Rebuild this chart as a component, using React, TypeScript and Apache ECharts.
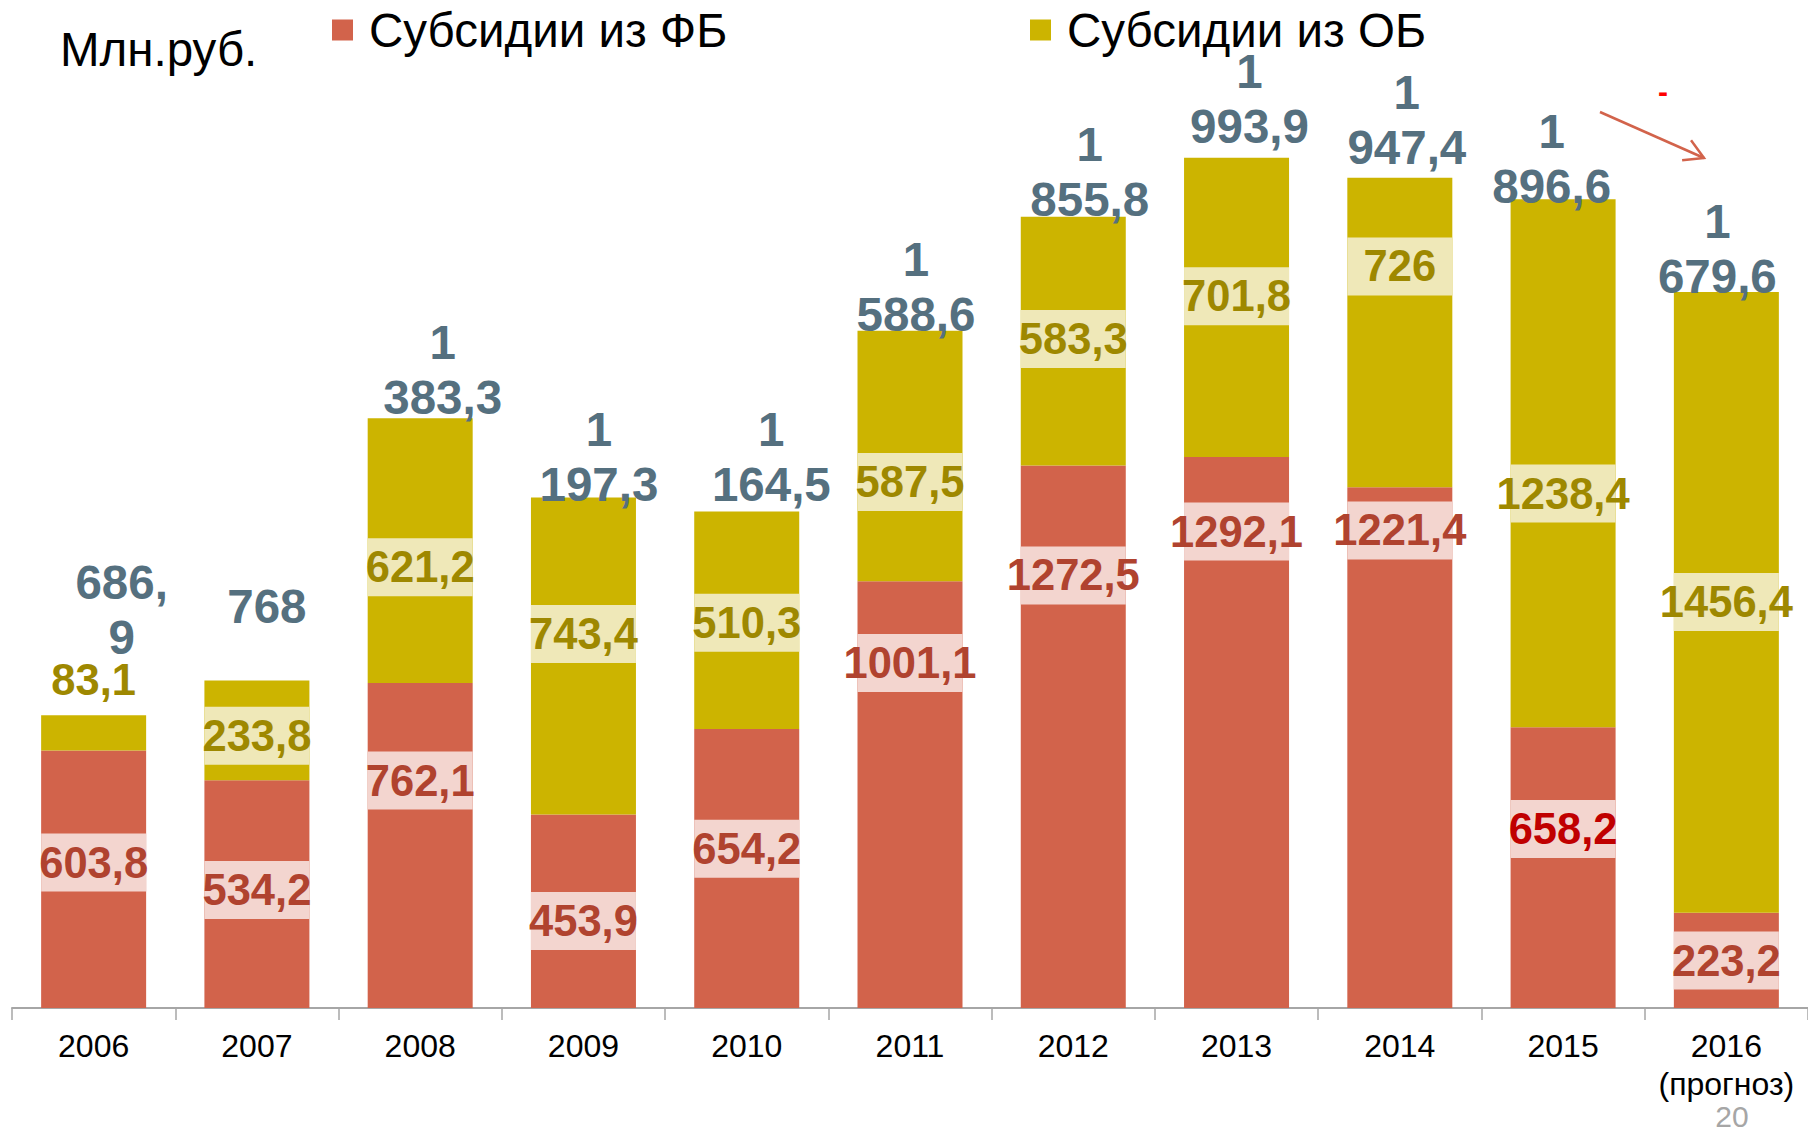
import React, { useEffect, useRef } from "react";
import * as echarts from "echarts";

// ---------- data ----------
const years = ["2006", "2007", "2008", "2009", "2010", "2011", "2012", "2013", "2014", "2015", "2016\n(прогноз)"];
const fbValues = [603.8, 534.2, 762.1, 453.9, 654.2, 1001.1, 1272.5, 1292.1, 1221.4, 658.2, 223.2];
const obValues = [83.1, 233.8, 621.2, 743.4, 510.3, 587.5, 583.3, 701.8, 726, 1238.4, 1456.4];
const seriesNames = ["Субсидии из ФБ", "Субсидии из ОБ"];
const unitLabel = "Млн.руб.";
const pageNumber = "20";
const trendMark = "-";

// ---------- layout ----------
const W = 1808;
const H = 1128;
const GRID_LEFT = 12;
const GRID_RIGHT = -6;
const GRID_TOP = 70;
const GRID_BOTTOM = 120;
const Y_MAX = 2200;
const BAR_W = 105;
const FONT = "'Liberation Sans', Arial, sans-serif";
// label centres (page px)
const fbLabelY = [862.5, 890, 780.6, 921, 848.7, 663, 575.4, 531.6, 530.4, 829, 960.5];
const obLabelY = [680, 735.7, 567.3, 634, 622.7, 482, 339, 296.3, 266.4, 493.5, 602];
const totalLabelY = [637, 606.5, 397.8, 484.3, 484.3, 314.8, 199.5, 126.8, 147.6, 186.8, 276.7];
const totalLabelDX = [28, 10, 22.5, 15.5, 24.6, 6, 16.5, 13, 7, -11.4, -9];
const LH_FIRST = 42;
const LH_LAST = 68;

const RED = "#d2634b";
const YELLOW = "#ccb400";

const yPix = (v: number) => H - GRID_BOTTOM - (v * (H - GRID_TOP - GRID_BOTTOM)) / Y_MAX;
const fmt = (v: number) => v.toFixed(1).replace(".", ",").replace(/,0$/, "");
const wrapTotal = (v: number) => {
  const s = fmt(v);
  const comma = s.indexOf(",");
  let lines: string[];
  if (v >= 1000) {
    const intPart = comma >= 0 ? s.slice(0, comma) : s;
    const head = intPart.slice(0, intPart.length - 3);
    lines = [head, s.slice(head.length)];
  } else if (comma >= 0) {
    lines = [s.slice(0, comma + 1), s.slice(comma + 1)];
  } else {
    lines = [s];
  }
  return lines.map((l, i) => (i === lines.length - 1 ? `{b|${l}}` : `{a|${l}}`)).join("\n");
};

export default function App() {
  const ref = useRef<HTMLDivElement>(null);
  useEffect(() => {
    if (!ref.current) return;
    const chart = echarts.init(ref.current, undefined, { renderer: "svg" });
    const totals = fbValues.map((v, i) => +(v + obValues[i]).toFixed(1));

    const innerLabel = {
      show: true,
      position: "inside",
      fontFamily: FONT,
      fontSize: 43.5,
      fontWeight: "bold",
      width: BAR_W,
      height: 58,
      lineHeight: 58,
      align: "center",
      verticalAlign: "middle",
      overflow: "none",
      formatter: (p: any) => fmt(p.value),
    };

    // arrow geometry
    const ax1 = 1600, ay1 = 112, ax2 = 1704, ay2 = 158;
    const len = Math.hypot(ax2 - ax1, ay2 - ay1);
    const bx = -(ax2 - ax1) / len, by = -(ay2 - ay1) / len;
    const c = Math.cos(Math.PI / 6), s = Math.sin(Math.PI / 6), hl = 22;
    const h1 = [ax2 + hl * (bx * c - by * s), ay2 + hl * (bx * s + by * c)];
    const h2 = [ax2 + hl * (bx * c + by * s), ay2 + hl * (-bx * s + by * c)];

    const legendText = { fontSize: 47.5, lineHeight: 44, color: "#000", fontFamily: FONT, padding: [0, 0, 0, 11] };
    const totalText = { fontFamily: FONT, fontSize: 47.5, fontWeight: "bold", color: "#55707f", align: "center" };

    chart.setOption({
      animation: false,
      backgroundColor: "#ffffff",
      grid: { left: GRID_LEFT, right: GRID_RIGHT, top: GRID_TOP, bottom: GRID_BOTTOM, containLabel: false },
      legend: [
        { data: [seriesNames[0]], left: 332, top: 6, padding: 0, icon: "rect", itemWidth: 21, itemHeight: 21, textStyle: legendText },
        { data: [seriesNames[1]], left: 1030, top: 6, padding: 0, icon: "rect", itemWidth: 21, itemHeight: 21, textStyle: legendText },
      ],
      xAxis: {
        type: "category",
        data: years,
        axisLine: { lineStyle: { color: "#a6a6a6", width: 2 } },
        axisTick: { show: true, length: 12, lineStyle: { color: "#a6a6a6", width: 1.5 } },
        axisLabel: { fontSize: 32, lineHeight: 38, color: "#000", fontFamily: FONT, margin: 19, interval: 0 },
      },
      yAxis: { type: "value", min: 0, max: Y_MAX, show: false, splitLine: { show: false } },
      series: [
        {
          name: seriesNames[0],
          type: "bar",
          stack: "total",
          barWidth: BAR_W,
          barGap: "-100%",
          itemStyle: { color: RED },
          label: { ...innerLabel, color: "#b0432f", backgroundColor: "#f3d5cf" },
          data: fbValues.map((v, i) => ({
            value: v,
            label: {
              offset: [0, fbLabelY[i] - (yPix(0) + yPix(v)) / 2],
              ...(i === 9 ? { color: "#c00000" } : {}),
            },
          })),
        },
        {
          name: seriesNames[1],
          type: "bar",
          stack: "total",
          barWidth: BAR_W,
          barGap: "-100%",
          itemStyle: { color: YELLOW },
          label: { ...innerLabel, color: "#9e8800", backgroundColor: "#efe8b8" },
          data: obValues.map((v, i) => ({
            value: v,
            label: {
              offset: [0, obLabelY[i] - (yPix(fbValues[i]) + yPix(fbValues[i] + v)) / 2],
              ...(i === 0 ? { backgroundColor: "transparent", height: 34, lineHeight: 34 } : {}),
            },
          })),
        },
        {
          name: "total",
          type: "bar",
          barWidth: BAR_W,
          barGap: "-100%",
          silent: true,
          itemStyle: { color: "transparent" },
          z: 5,
          label: {
            show: true,
            position: "top",
            distance: 0,
            ...totalText,
            rich: {
              a: { ...totalText, lineHeight: LH_FIRST },
              b: { ...totalText, lineHeight: LH_LAST },
            },
            formatter: (p: any) => wrapTotal(p.value),
          },
          data: totals.map((v, i) => ({
            value: v,
            label: { offset: [totalLabelDX[i], totalLabelY[i] - (yPix(v) - LH_LAST / 2)] },
          })),
        },
      ],
      graphic: [
        {
          type: "text",
          x: 60,
          y: 49,
          style: { text: unitLabel, fontSize: 47.5, fontFamily: FONT, fill: "#000", align: "left", verticalAlign: "middle", textAlign: "left", textVerticalAlign: "middle" },
        },
        {
          type: "text",
          x: 1732,
          y: 1116,
          style: { text: pageNumber, fontSize: 30, fontFamily: FONT, fill: "#a6a6a6", align: "center", verticalAlign: "middle", textAlign: "center", textVerticalAlign: "middle" },
        },
        {
          type: "text",
          x: 1663,
          y: 91.5,
          style: { text: trendMark, fontSize: 30, fontWeight: "bold", fontFamily: FONT, fill: "#ff0000", align: "center", verticalAlign: "middle", textAlign: "center", textVerticalAlign: "middle" },
        },
        {
          type: "line",
          shape: { x1: ax1, y1: ay1, x2: ax2, y2: ay2 },
          style: { stroke: RED, lineWidth: 2.5 },
        },
        {
          type: "polyline",
          shape: { points: [h1, [ax2, ay2], h2] },
          style: { stroke: RED, lineWidth: 2.5, fill: null },
        },
      ],
    });
    return () => chart.dispose();
  }, []);
  return <div ref={ref} style={{ position: "fixed", left: 0, top: 0, width: W, height: H }} />;
}
